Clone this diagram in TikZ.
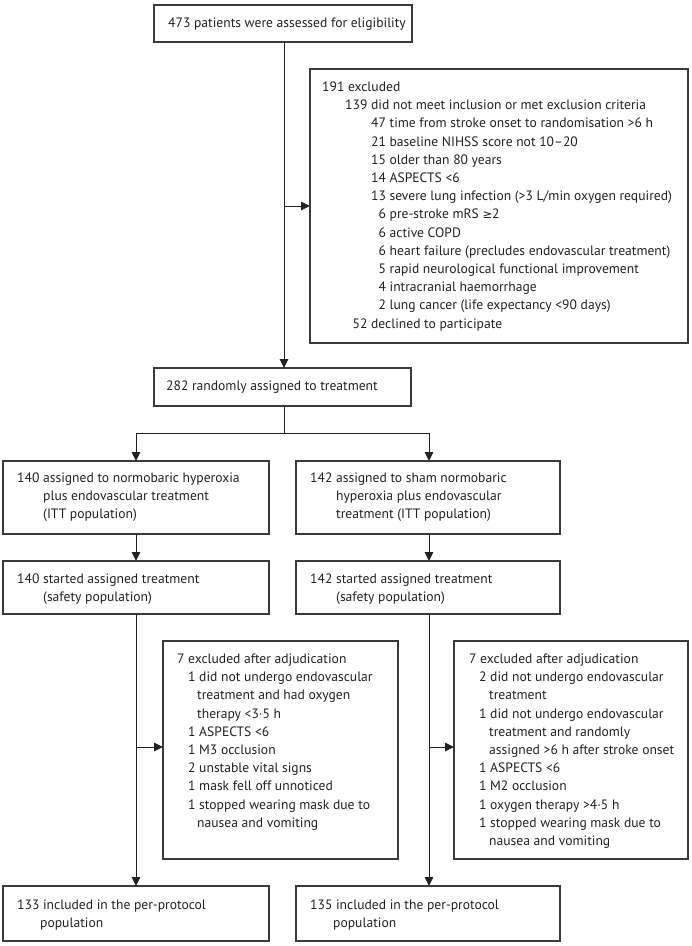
\documentclass[tikz,border=0pt]{standalone}
\usepackage{fontspec}
\setmainfont{PT Sans}
\newfontfamily\symf{DejaVu Sans}
\usetikzlibrary{arrows.meta}
\newcommand\gesym{{\symf\fontsize{11.5}{18.2}\selectfont ≥}}
\definecolor{boxc}{HTML}{3A3A3A}
\definecolor{txtc}{HTML}{222222}
\begin{document}
\begin{tikzpicture}[x=1pt,y=-1pt,
  box/.style={draw=boxc, line width=1.1pt, inner sep=0pt, outer sep=0pt, anchor=north west},
  txt/.style={anchor=base west, inner sep=0pt, text=txtc, font=\fontsize{13.6}{18.2}\selectfont},
  conn/.style={draw=txtc, line width=1pt},
  arr/.style={conn, -{Triangle[length=9pt,width=8.5pt]}}]
\useasboundingbox[fill=white] (0,0) rectangle (692,946);

% boxes
\node[box, minimum width=258pt, minimum height=37pt] (top) at (154,5) {};
\node[box, minimum width=378pt, minimum height=274pt] (excl) at (310,69) {};
\node[box, minimum width=257pt, minimum height=38pt] (rand) at (154,368) {};
\node[box, minimum width=266pt, minimum height=73pt] (ittA) at (3,461) {};
\node[box, minimum width=264pt, minimum height=73pt] (ittB) at (296,461) {};
\node[box, minimum width=266pt, minimum height=53pt] (safeA) at (3,561) {};
\node[box, minimum width=264pt, minimum height=53pt] (safeB) at (296,561) {};
\node[box, minimum width=235pt, minimum height=218pt] (exA) at (163,641) {};
\node[box, minimum width=234pt, minimum height=218pt] (exB) at (454,641) {};
\node[box, minimum width=266pt, minimum height=55pt] (finA) at (3,886) {};
\node[box, minimum width=264pt, minimum height=55pt] (finB) at (296,886) {};

% texts
\node[txt] (topt) at (168,27.5) {473 patients were assessed for eligibility};
\node[txt] (exclt) at (322,91.5) {\begin{tabular}[t]{@{}l@{}}
191 excluded\\
\hspace*{23pt}139 did not meet inclusion or met exclusion criteria\\
\hspace*{49pt}47 time from stroke onset to randomisation >6 h\\
\hspace*{49pt}21 baseline NIHSS score not 10–20\\
\hspace*{49pt}15 older than 80 years\\
\hspace*{49pt}14 ASPECTS <6\\
\hspace*{49pt}13 severe lung infection (>3 L/min oxygen required)\\
\hspace*{49pt}\phantom{0}6 pre-stroke mRS \gesym2\\
\hspace*{49pt}\phantom{0}6 active COPD\\
\hspace*{49pt}\phantom{0}6 heart failure (precludes endovascular treatment)\\
\hspace*{49pt}\phantom{0}5 rapid neurological functional improvement\\
\hspace*{49pt}\phantom{0}4 intracranial haemorrhage\\
\hspace*{49pt}\phantom{0}2 lung cancer (life expectancy <90 days)\\
\hspace*{23pt}\phantom{0}52 declined to participate
\end{tabular}};
\node[txt] (randt) at (166,390.5) {282 randomly assigned to treatment};
\node[txt] (ittAt) at (17,482.5) {\begin{tabular}[t]{@{}l@{}}
140 assigned to normobaric hyperoxia\\
\hspace*{26pt}plus endovascular treatment\\
\hspace*{26pt}(ITT population)
\end{tabular}};
\node[txt] (ittBt) at (310,482.5) {\begin{tabular}[t]{@{}l@{}}
142 assigned to sham normobaric\\
\hspace*{26pt}hyperoxia plus endovascular\\
\hspace*{26pt}treatment (ITT population)
\end{tabular}};
\node[txt] (safeAt) at (17,583.5) {\begin{tabular}[t]{@{}l@{}}
140 started assigned treatment\\
\hspace*{26pt}(safety population)
\end{tabular}};
\node[txt] (safeBt) at (310,583.5) {\begin{tabular}[t]{@{}l@{}}
142 started assigned treatment\\
\hspace*{26pt}(safety population)
\end{tabular}};
\node[txt] (exAt) at (177,663.5) {\begin{tabular}[t]{@{}l@{}}
7 excluded after adjudication\\
\hspace*{11pt}1 did not undergo endovascular\\
\hspace*{20pt}treatment and had oxygen\\
\hspace*{20pt}therapy <3·5 h\\
\hspace*{11pt}1 ASPECTS <6\\
\hspace*{11pt}1 M3 occlusion\\
\hspace*{11pt}2 unstable vital signs\\
\hspace*{11pt}1 mask fell off unnoticed\\
\hspace*{11pt}1 stopped wearing mask due to\\
\hspace*{20pt}nausea and vomiting
\end{tabular}};
\node[txt] (exBt) at (469,663.5) {\begin{tabular}[t]{@{}l@{}}
7 excluded after adjudication\\
\hspace*{10pt}2 did not undergo endovascular\\
\hspace*{20pt}treatment\\
\hspace*{10pt}1 did not undergo endovascular\\
\hspace*{20pt}treatment and randomly\\
\hspace*{20pt}assigned >6 h after stroke onset\\
\hspace*{10pt}1 ASPECTS <6\\
\hspace*{10pt}1 M2 occlusion\\
\hspace*{10pt}1 oxygen therapy >4·5 h\\
\hspace*{10pt}1 stopped wearing mask due to\\
\hspace*{20pt}nausea and vomiting
\end{tabular}};
\node[txt] (finAt) at (17,909.5) {\begin{tabular}[t]{@{}l@{}}
133 included in the per-protocol\\
\hspace*{23pt}population
\end{tabular}};
\node[txt] (finBt) at (310,909.5) {\begin{tabular}[t]{@{}l@{}}
135 included in the per-protocol\\
\hspace*{23pt}population
\end{tabular}};

% connectors
\coordinate (j1) at (284,206);
\coordinate (j2) at (284,433);
\coordinate (jA) at (136,433);
\coordinate (jB) at (429,433);
\coordinate (kA) at (136,747);
\coordinate (kB) at (429,747);
\path[arr] (284,42) coordinate (tb) -- (tb |- rand.north);
\path[arr] (j1) -- (j1 -| excl.west);
\path[conn] (tb |- rand.south) -- (j2);
\path[conn] (jA) -- (jB);
\path[arr] (jA) -- (jA |- ittA.north);
\path[arr] (jB) -- (jB |- ittB.north);
\path[arr] (jA |- ittA.south) -- (jA |- safeA.north);
\path[arr] (jB |- ittB.south) -- (jB |- safeB.north);
\path[arr] (jA |- safeA.south) -- (jA |- finA.north);
\path[arr] (jB |- safeB.south) -- (jB |- finB.north);
\path[arr] (kA) -- (kA -| exA.west);
\path[arr] (kB) -- (kB -| exB.west);
\end{tikzpicture}
\end{document}
